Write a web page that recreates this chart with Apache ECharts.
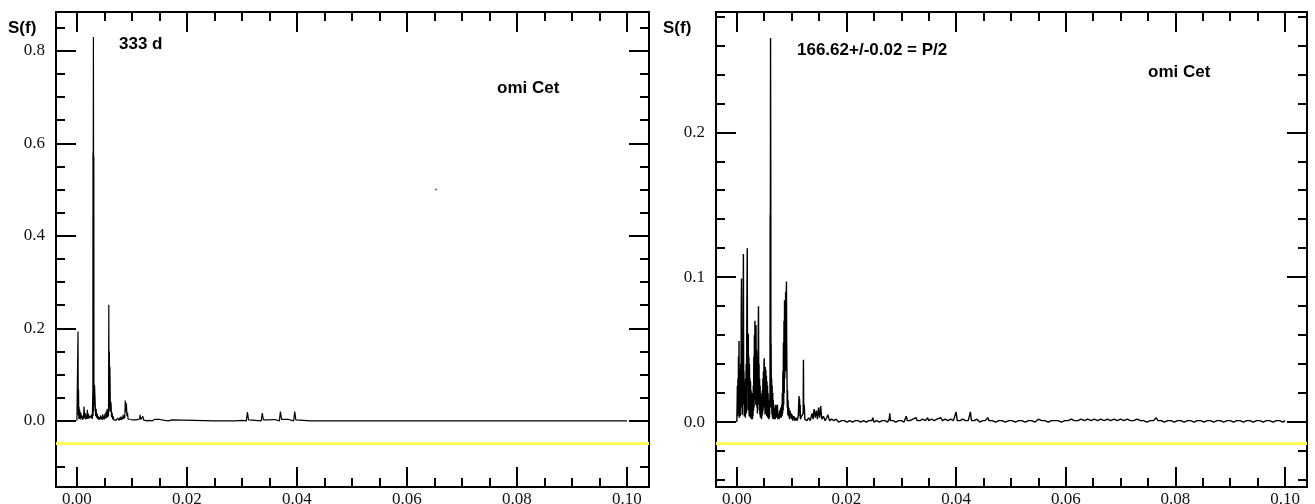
<!DOCTYPE html>
<html>
<head>
<meta charset="utf-8">
<script src="https://cdn.jsdelivr.net/npm/echarts@6/dist/echarts.min.js"></script>
<style>
html, body { margin: 0; padding: 0; background: #fff; overflow: hidden; }
#chart { width: 1315px; height: 504px; }
</style>
</head>
<body>
<div id="chart"></div>
<script>
// power spectrum S(f), left: full data (333 d), right: after prewhitening (P/2)
var leftSpectrum = [
  [0.0000,0.000],[0.0001,0.000],[0.0002,0.193],[0.00025,0.012],[0.0003,0.067],[0.00035,0.004],
  [0.0004,0.030],[0.00045,0.008],[0.0005,0.024],[0.0006,0.003],[0.0007,0.018],[0.0008,0.006],
  [0.0009,0.012],[0.0010,0.002],[0.0011,0.010],[0.0012,0.004],[0.0013,0.031],[0.0014,0.006],
  [0.0015,0.017],[0.0016,0.003],[0.0017,0.012],[0.0018,0.005],[0.0019,0.024],[0.0020,0.004],
  [0.0021,0.015],[0.0022,0.006],[0.0023,0.010],[0.0024,0.002],[0.0025,0.011],[0.0026,0.006],
  [0.0027,0.014],[0.0028,0.004],[0.0029,0.070],[0.00292,0.580],[0.00294,0.010],[0.00297,0.580],
  [0.0030,0.830],[0.00303,0.560],[0.00306,0.020],[0.00308,0.570],
  [0.0031,0.030],[0.0032,0.078],[0.0033,0.050],[0.0034,0.010],[0.0035,0.026],[0.0036,0.006],
  [0.0037,0.015],[0.0038,0.004],[0.0039,0.010],[0.0040,0.002],[0.0041,0.008],[0.0042,0.003],
  [0.0043,0.012],[0.0044,0.004],[0.0045,0.009],[0.0046,0.002],[0.0047,0.014],[0.0048,0.004],
  [0.0049,0.010],[0.0050,0.003],[0.0051,0.015],[0.0052,0.005],[0.0053,0.020],[0.0054,0.006],
  [0.0055,0.026],[0.0056,0.008],[0.0057,0.017],[0.00575,0.010],[0.0058,0.251],[0.00585,0.020],
  [0.0059,0.150],[0.00595,0.030],[0.0060,0.117],[0.0061,0.020],[0.0062,0.040],[0.0063,0.008],
  [0.0064,0.018],[0.0065,0.003],
  [0.0066,0.010],[0.0067,0.002],[0.0068,0.006],[0.0069,0.001],[0.0070,0.005],[0.0071,0.001],
  [0.0072,0.004],[0.0073,0.001],[0.0074,0.006],[0.0075,0.002],[0.0076,0.005],[0.0077,0.001],
  [0.0078,0.007],[0.0079,0.002],[0.0080,0.009],[0.0081,0.002],[0.0082,0.008],[0.0083,0.003],
  [0.0084,0.013],[0.0085,0.004],[0.0086,0.012],[0.0087,0.006],[0.0088,0.044],[0.0089,0.020],
  [0.0090,0.038],[0.0091,0.010],[0.0092,0.018],[0.0093,0.004],[0.0094,0.006],[0.0095,0.001],
  [0.0097,0.003],[0.0099,0.000],[0.0102,0.002],[0.0105,0.000],[0.0108,0.002],[0.0111,0.001],
  [0.0114,0.004],[0.0115,0.013],[0.0116,0.003],[0.0118,0.006],[0.0120,0.010],[0.0121,0.002],
  [0.0124,0.001],[0.0128,0.000],[0.0132,0.001],[0.0137,0.000],[0.0141,0.003],[0.0143,0.001],
  [0.0146,0.003],[0.0148,0.001],[0.0150,0.003],[0.0152,0.000],[0.0160,0.001],[0.0166,0.000],
  [0.0173,0.002],[0.0175,0.000],[0.0250,0.000],[0.0252,0.001],[0.0254,0.000],[0.0284,0.000],
  [0.0286,0.004],[0.0288,0.000],[0.0300,0.001],[0.0302,0.000],[0.0308,0.000],[0.0310,0.019],
  [0.0312,0.002],[0.0314,0.000],[0.0325,0.001],[0.0327,0.000],[0.0335,0.000],[0.0337,0.017],
  [0.0339,0.002],[0.0341,0.000],[0.0350,0.002],[0.0352,0.000],[0.0360,0.003],[0.0362,0.000],
  [0.0368,0.000],[0.0370,0.020],[0.0372,0.003],[0.0374,0.000],[0.0385,0.003],[0.0387,0.000],
  [0.0394,0.000],[0.0396,0.020],[0.0398,0.002],[0.0400,0.000],[0.0425,0.000],[0.0427,0.004],
  [0.0429,0.000],[0.0460,0.000],[0.0462,0.002],[0.0464,0.000],[0.0645,0.000],[0.0647,0.003],
  [0.0649,0.000],[0.0672,0.000],[0.0674,0.004],[0.0676,0.000],[0.0704,0.000],[0.0706,0.003],
  [0.0708,0.000],[0.0730,0.000],[0.0732,0.004],[0.0734,0.000],[0.0759,0.000],[0.0761,0.002],
  [0.0763,0.000],[0.1000,0.000]
];

var rightSpectrum = [
  [0.0000,0.000],[0.0001,0.025],[0.00015,0.004],[0.0002,0.030],[0.00025,0.006],[0.0003,0.045],
  [0.00035,0.010],[0.0004,0.056],[0.00045,0.003],[0.0005,0.036],[0.00055,0.008],[0.0006,0.030],
  [0.00065,0.004],[0.0007,0.040],[0.00075,0.012],[0.0008,0.070],[0.00085,0.099],[0.0009,0.010],
  [0.00095,0.045],[0.0010,0.005],[0.00105,0.038],[0.0011,0.012],[0.00115,0.080],[0.0012,0.116],
  [0.00125,0.020],[0.0013,0.035],[0.00135,0.004],[0.0014,0.028],[0.00145,0.008],[0.0015,0.026],
  [0.00155,0.003],[0.0016,0.030],[0.00165,0.010],[0.0017,0.040],[0.00175,0.006],[0.0018,0.055],
  [0.00185,0.090],[0.0019,0.120],[0.00195,0.030],[0.0020,0.055],[0.00205,0.008],[0.0021,0.061],
  [0.00215,0.012],[0.0022,0.045],[0.00225,0.004],[0.0023,0.040],[0.00235,0.010],[0.0024,0.030],
  [0.00245,0.003],[0.0025,0.028],[0.00255,0.006],[0.0026,0.022],[0.00265,0.002],[0.0027,0.018],
  [0.00275,0.006],[0.0028,0.020],[0.00285,0.002],[0.0029,0.015],[0.00295,0.004],[0.0030,0.025],
  [0.00305,0.008],[0.0031,0.045],[0.00315,0.010],[0.0032,0.060],[0.00325,0.015],[0.0033,0.070],
  [0.00335,0.020],[0.0034,0.055],[0.00345,0.012],[0.0035,0.067],[0.00355,0.018],[0.0036,0.050],
  [0.00365,0.010],[0.0037,0.040],[0.00375,0.006],[0.0038,0.045],[0.00385,0.012],[0.0039,0.060],
  [0.00395,0.080],[0.0040,0.030],[0.00405,0.040],[0.0041,0.008],[0.00415,0.030],[0.0042,0.005],
  [0.00425,0.025],[0.0043,0.003],[0.00435,0.020],[0.0044,0.006],[0.00445,0.018],[0.0045,0.002],
  [0.00455,0.015],[0.0046,0.004],[0.00465,0.022],[0.0047,0.006],[0.00475,0.030],[0.0048,0.008],
  [0.00485,0.035],[0.0049,0.010],[0.00495,0.040],[0.0050,0.044],[0.00505,0.012],[0.0051,0.030],
  [0.00515,0.005],[0.0052,0.038],[0.00525,0.010],[0.0053,0.036],[0.00535,0.006],[0.0054,0.032],
  [0.00545,0.004],[0.0055,0.028],[0.00555,0.006],[0.0056,0.025],[0.00565,0.003],[0.0057,0.020],
  [0.00575,0.004],[0.0058,0.015],[0.00585,0.002],[0.0059,0.010],[0.00595,0.003],[0.0060,0.012],
  [0.00605,0.020],[0.00608,0.143],[0.0061,0.010],[0.00612,0.143],[0.00615,0.265],[0.0062,0.140],
  [0.00622,0.010],[0.00625,0.054],[0.0063,0.010],
  [0.00635,0.030],[0.0064,0.005],[0.00645,0.025],[0.0065,0.003],[0.00655,0.020],[0.0066,0.002],
  [0.00665,0.015],[0.0067,0.003],[0.00675,0.012],[0.0068,0.002],[0.0069,0.010],[0.0070,0.002],
  [0.0071,0.012],[0.0072,0.003],[0.0073,0.008],[0.0074,0.012],[0.0075,0.002],[0.0076,0.006],
  [0.0077,0.002],[0.0078,0.008],[0.0079,0.003],[0.0080,0.010],[0.0081,0.003],[0.0082,0.012],
  [0.00825,0.004],[0.0083,0.020],[0.00835,0.006],[0.0084,0.035],[0.00845,0.008],[0.0085,0.055],
  [0.00855,0.012],[0.0086,0.070],[0.00865,0.020],[0.0087,0.084],[0.00875,0.030],[0.0088,0.075],
  [0.00885,0.040],[0.0089,0.090],[0.00895,0.035],[0.0090,0.080],[0.00905,0.097],[0.0091,0.050],
  [0.00915,0.030],[0.0092,0.010],
  [0.00925,0.022],[0.0093,0.005],[0.00935,0.015],[0.0094,0.004],[0.0095,0.010],[0.0096,0.002],
  [0.0097,0.008],[0.0098,0.003],[0.0099,0.006],[0.0100,0.002],[0.0101,0.005],[0.0102,0.001],
  [0.0104,0.004],[0.0106,0.001],[0.0108,0.003],[0.0110,0.001],[0.0112,0.004],[0.01135,0.018],
  [0.0114,0.010],[0.01145,0.016],[0.0115,0.004],[0.01155,0.012],[0.0116,0.002],[0.0118,0.004],
  [0.0121,0.006],[0.01215,0.043],[0.0122,0.006],[0.0123,0.012],[0.0124,0.002],[0.0126,0.003],
  [0.0128,0.001],[0.0131,0.003],[0.0134,0.001],[0.0137,0.006],[0.0139,0.002],[0.0141,0.009],
  [0.0143,0.003],[0.0145,0.008],[0.0147,0.002],[0.0149,0.010],[0.0151,0.003],[0.0153,0.011],
  [0.0155,0.002],[0.0158,0.004],[0.0161,0.001],[0.0164,0.003],[0.0166,0.005],[0.0169,0.001],
  [0.0173,0.002],[0.0177,0.001],[0.0181,0.002],[0.0186,0.000],[0.0191,0.001],[0.0196,0.001],
  [0.0201,0.000],[0.0206,0.001],[0.0211,0.000],[0.0216,0.001],[0.0221,0.001],[0.0226,0.000],
  [0.0231,0.001],[0.0236,0.000],[0.0241,0.001],[0.0246,0.001],[0.0248,0.003],[0.0250,0.000],
  [0.0255,0.001],[0.0260,0.000],[0.0265,0.001],[0.0270,0.001],[0.0275,0.000],[0.0278,0.002],
  [0.0279,0.006],[0.0280,0.001],[0.0285,0.001],[0.0290,0.000],[0.0295,0.001],[0.0300,0.001],
  [0.0305,0.000],[0.0309,0.004],[0.0311,0.001],[0.0316,0.001],[0.0321,0.002],[0.0327,0.003],
  [0.0329,0.001],[0.0334,0.001],[0.0339,0.002],[0.0344,0.001],[0.0348,0.003],[0.0350,0.001],
  [0.0355,0.002],[0.0360,0.001],[0.0365,0.002],[0.0372,0.003],[0.0375,0.001],[0.0380,0.002],
  [0.0385,0.001],[0.0390,0.002],[0.0395,0.001],[0.0400,0.007],[0.0402,0.001],[0.0407,0.001],
  [0.0412,0.002],[0.0417,0.001],[0.0422,0.001],[0.0426,0.007],[0.0428,0.001],[0.0433,0.001],
  [0.0438,0.002],[0.0443,0.000],[0.0448,0.001],[0.0453,0.001],[0.0458,0.003],[0.0460,0.001],
  [0.0466,0.001],[0.0472,0.000],[0.0478,0.001],[0.0484,0.001],[0.0490,0.000],[0.0496,0.001],
  [0.0502,0.001],[0.0508,0.000],[0.0514,0.001],[0.0520,0.001],[0.0526,0.000],[0.0532,0.001],
  [0.0538,0.001],[0.0544,0.000],[0.0550,0.002],[0.0556,0.001],[0.0562,0.001],[0.0568,0.000],
  [0.0574,0.001],[0.0580,0.001],[0.0586,0.001],[0.0592,0.000],[0.0598,0.001],[0.0604,0.001],
  [0.0610,0.002],[0.0616,0.001],[0.0622,0.001],[0.0628,0.002],[0.0634,0.001],[0.0640,0.002],
  [0.0646,0.001],[0.0652,0.002],[0.0658,0.001],[0.0664,0.002],[0.0670,0.001],[0.0676,0.002],
  [0.0682,0.001],[0.0688,0.002],[0.0694,0.001],[0.0700,0.002],[0.0706,0.001],[0.0712,0.002],
  [0.0718,0.001],[0.0724,0.001],[0.0730,0.002],[0.0736,0.001],[0.0742,0.001],[0.0748,0.000],
  [0.0754,0.001],[0.0760,0.001],[0.0765,0.003],[0.0768,0.001],[0.0774,0.001],[0.0780,0.000],
  [0.0786,0.001],[0.0792,0.001],[0.0798,0.000],[0.0804,0.001],[0.0810,0.001],[0.0816,0.000],
  [0.0822,0.001],[0.0828,0.001],[0.0834,0.000],[0.0840,0.001],[0.0846,0.001],[0.0852,0.000],
  [0.0858,0.001],[0.0864,0.001],[0.0870,0.000],[0.0876,0.001],[0.0882,0.001],[0.0888,0.000],
  [0.0894,0.001],[0.0900,0.001],[0.0906,0.000],[0.0912,0.001],[0.0918,0.001],[0.0924,0.000],
  [0.0930,0.001],[0.0936,0.001],[0.0942,0.000],[0.0948,0.001],[0.0954,0.001],[0.0960,0.000],
  [0.0966,0.001],[0.0972,0.001],[0.0978,0.000],[0.0984,0.001],[0.0990,0.001],[0.0996,0.000],
  [0.1000,0.001]
];

var leftStray = [[0.0653, 0.50]];
var leftLevel = -0.048;   // yellow line
var rightLevel = -0.0145;

var freqRange = [-0.0038, 0.104];
var leftRange = [-0.143, 0.884];
var rightRange = [-0.0448, 0.283];

var mychart = echarts.init(document.getElementById('chart'));

function isStep(v, step) {
    var k = v / step;
    return Math.abs(k - Math.round(k)) < 1e-6;
}

function xAx(grid, pos) {
    return {
        type: 'value', gridIndex: grid, position: pos,
        min: freqRange[0], max: freqRange[1], splitNumber: 5,
        axisLine: { onZero: false, lineStyle: { color: '#000', width: 2 } },
        axisTick: { inside: true, length: 20, lineStyle: { color: '#000', width: 2 } },
        minorTick: { show: true, splitNumber: 4, length: 9, lineStyle: { color: '#000', width: 2 } },
        splitLine: { show: false },
        axisLabel: {
            show: pos == 'bottom', margin: 4,
            fontFamily: 'Liberation Serif', fontSize: 17, color: '#111',
            formatter: function (v) { return isStep(v, 0.02) ? v.toFixed(2) : ''; }
        }
    };
}

function yAx(grid, pos, range, n, minor, step) {
    return {
        type: 'value', gridIndex: grid, position: pos,
        min: range[0], max: range[1], splitNumber: n,
        axisLine: { onZero: false, lineStyle: { color: '#000', width: 2 } },
        axisTick: { inside: true, length: 20, lineStyle: { color: '#000', width: 2 } },
        minorTick: { show: true, splitNumber: minor, length: 9, lineStyle: { color: '#000', width: 2 } },
        splitLine: { show: false },
        axisLabel: {
            show: pos == 'left', margin: 11,
            fontFamily: 'Liberation Serif', fontSize: 17, color: '#111',
            formatter: function (v) { return isStep(v, step) ? v.toFixed(1) : ''; }
        }
    };
}

function label(x, y, txt) {
    return {
        type: 'text', left: x, top: y,
        style: { text: txt, fill: '#000', font: 'bold 17px "Liberation Sans", Arial, sans-serif' }
    };
}

function level(v) {
    return {
        silent: true, symbol: 'none', precision: 4, label: { show: false },
        lineStyle: { color: '#ffff55', width: 3, type: 'solid' },
        data: [{ yAxis: v }]
    };
}

var option = {
    animation: false,
    backgroundColor: '#fff',
    grid: [
        { left: 56, top: 12, width: 593, height: 475, outerBoundsMode: 'none', containLabel: false },
        { left: 716, top: 12, width: 591, height: 475, outerBoundsMode: 'none', containLabel: false }
    ],
    xAxis: [xAx(0, 'bottom'), xAx(0, 'top'), xAx(1, 'bottom'), xAx(1, 'top')],
    yAxis: [
        yAx(0, 'left', leftRange, 5, 4, 0.2), yAx(0, 'right', leftRange, 5, 4, 0.2),
        yAx(1, 'left', rightRange, 3, 5, 0.1), yAx(1, 'right', rightRange, 3, 5, 0.1)
    ],
    graphic: [
        label(8, 20, 'S(f)'),
        label(119, 36, '333 d'),
        label(497, 80, 'omi Cet'),
        label(663, 20, 'S(f)'),
        label(797, 42, '166.62+/-0.02 = P/2'),
        label(1148, 64, 'omi Cet')
    ],
    series: [
        {
            type: 'line', xAxisIndex: 0, yAxisIndex: 0, data: leftSpectrum,
            showSymbol: false, lineStyle: { color: '#000', width: 1.2 },
            markLine: level(leftLevel)
        },
        {
            type: 'scatter', xAxisIndex: 0, yAxisIndex: 0, data: leftStray,
            symbolSize: 2, itemStyle: { color: '#333' }
        },
        {
            type: 'line', xAxisIndex: 2, yAxisIndex: 2, data: rightSpectrum,
            showSymbol: false, lineStyle: { color: '#000', width: 1.4 },
            markLine: level(rightLevel)
        }
    ]
};
mychart.setOption(option);
</script>
</body>
</html>
